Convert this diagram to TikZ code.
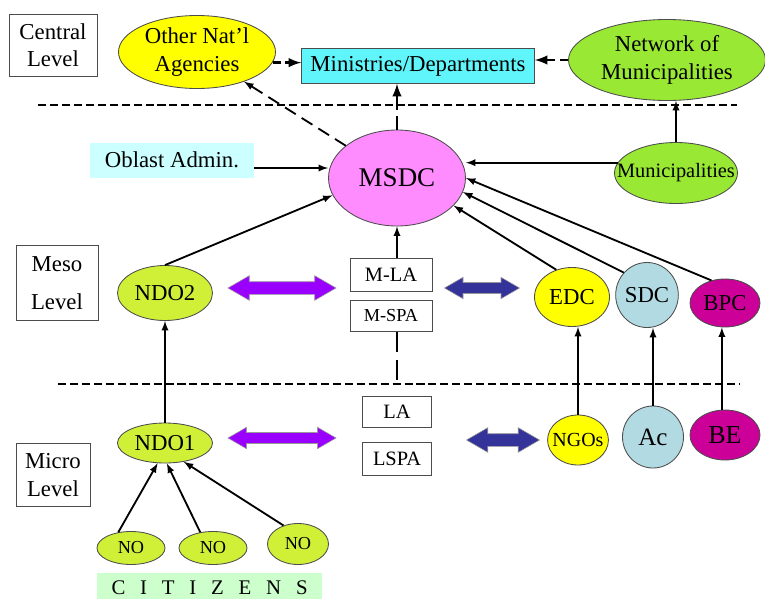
\documentclass[tikz,border=0pt]{standalone}
\usepackage{fontspec}
\setmainfont{Liberation Serif}
\usepackage{tikz}
\usetikzlibrary{shapes.arrows, shapes.geometric, arrows, positioning}
\usetikzlibrary{calc}
\usepackage{xcolor}

\definecolor{natyellow}{RGB}{255,255,0}
\definecolor{mincyan}{RGB}{95,245,250}
\definecolor{munigreen}{RGB}{153,232,51}
\definecolor{ndogreen}{RGB}{208,240,56}
\definecolor{msdcpink}{RGB}{255,140,255}
\definecolor{oblastcyan}{RGB}{204,255,255}
\definecolor{arrpurple}{RGB}{153,0,255}
\definecolor{arrblue}{RGB}{51,51,153}
\definecolor{sdcblue}{RGB}{178,218,226}
\definecolor{bpcmagenta}{RGB}{204,0,153}
\definecolor{citgreen}{RGB}{204,255,204}

\tikzset{
	lvlbox/.style={draw=black!70, line width=0.6pt, align=center, inner sep=0pt},
	oval/.style={ellipse, draw=black!70, line width=0.6pt, inner sep=0pt, align=center},
	txt/.style={font=\fontsize{16.2}{19.5}\selectfont},
	smalltxt/.style={font=\fontsize{14.5}{17}\selectfont},
	tinytxt/.style={font=\fontsize{13}{15}\selectfont},
	link/.style={-latex, line width=1.3pt},
	sepline/.style={line width=1.3pt, dash pattern=on 5.7pt off 2.8pt},
	dbl/.style={double arrow, double arrow tip angle=60, inner xsep=0pt, draw=black!40, line width=0.4pt}
}

\begin{document}
\begin{tikzpicture}
		\useasboundingbox (0,0) rectangle (19.125cm,-14.975cm);
		% central level
		\draw (1.325cm,-1.125cm) node[lvlbox, txt, minimum width=2.2cm, minimum height=1.55cm] (central) {Central\\Level}
		(4.925cm,-1.3cm) node[oval, txt, fill=natyellow, minimum width=3.925cm, minimum height=1.825cm] (ona) {Other Nat’l\\Agencies}
		(10.45cm,-1.65cm) node[lvlbox, txt, fill=mincyan, minimum width=5.825cm, minimum height=0.875cm] (min) {Ministries/Departments}
		(16.675cm,-1.5cm) node[oval, txt, fill=munigreen, minimum width=4.925cm, minimum height=2.025cm] (net) {Network of\\Municipalities};
		\draw[sepline] (0.95cm,-2.625cm) -- (18.425cm,-2.625cm);
		
		% meso level
		\draw (4.3cm,-4.0cm) node[txt, fill=oblastcyan, inner sep=0pt, minimum width=4.1cm, minimum height=0.875cm] (oblast) {Oblast Admin.}
		(9.925cm,-4.45cm) node[oval, fill=msdcpink, minimum width=3.425cm, minimum height=2.4cm, font=\fontsize{19.2}{22}\selectfont] (msdc) {MSDC}
		(16.9cm,-4.325cm) node[oval, smalltxt, fill=munigreen, inner xsep=-0.4cm, minimum width=3.075cm, minimum height=1.525cm] (muni) {Municipalities}
		(1.425cm,-7.075cm) node[lvlbox, txt, minimum width=2.05cm, minimum height=1.875cm] (meso) {Meso\\[8pt]Level}
		(4.125cm,-7.325cm) node[oval, txt, fill=ndogreen, minimum width=2.375cm, minimum height=1.375cm] (ndo2) {NDO2}
		(9.775cm,-6.875cm) node[lvlbox, smalltxt, minimum width=2.05cm, minimum height=0.825cm] (mla) {M-LA}
		(9.775cm,-7.9cm) node[lvlbox, tinytxt, minimum width=2.05cm, minimum height=0.775cm] (mspa) {M-SPA}
		(14.3cm,-7.425cm) node[oval, txt, fill=natyellow, minimum width=1.875cm, minimum height=1.475cm] (edc) {EDC}
		(16.175cm,-7.375cm) node[oval, txt, fill=sdcblue, minimum width=1.525cm, minimum height=1.625cm] (sdc) {SDC}
		(18.125cm,-7.575cm) node[oval, txt, fill=bpcmagenta, minimum width=1.75cm, minimum height=1.2cm] (bpc) {BPC};
		\draw (7.05cm,-7.2cm) node[dbl, fill=arrpurple, inner ysep=0.15cm, double arrow head extend=0.15cm, minimum height=2.7cm] (mesopurple) {}
		(12.05cm,-7.2cm) node[dbl, fill=arrblue, inner ysep=0.13cm, double arrow head extend=0.13cm, minimum height=1.875cm] (mesoblue) {};
		\draw[sepline] (1.45cm,-9.6cm) -- (18.5cm,-9.6cm);
		\coordinate (cut) at (9.925cm,-9.6cm);
		
		% micro level
		\draw (9.925cm,-10.3cm) node[lvlbox, smalltxt, minimum width=1.725cm, minimum height=0.775cm] (la) {LA}
		(9.925cm,-11.475cm) node[lvlbox, smalltxt, minimum width=1.725cm, minimum height=0.825cm] (lspa) {LSPA}
		(4.125cm,-11.075cm) node[oval, txt, fill=ndogreen, minimum width=2.375cm, minimum height=1.0cm] (ndo1) {NDO1}
		(14.45cm,-11.0cm) node[oval, font=\fontsize{14.2}{16}\selectfont, fill=natyellow, inner xsep=-0.1cm, minimum width=1.5cm, minimum height=1.25cm] (ngos) {NGOs}
		(16.325cm,-10.925cm) node[oval, font=\fontsize{17.8}{20}\selectfont, fill=sdcblue, minimum width=1.525cm, minimum height=1.55cm] (ac) {Ac}
		(18.125cm,-10.875cm) node[oval, font=\fontsize{18.5}{20}\selectfont, fill=bpcmagenta, minimum width=1.75cm, minimum height=1.25cm] (be) {BE}
		(1.325cm,-11.875cm) node[lvlbox, txt, minimum width=1.85cm, minimum height=1.575cm] (micro) {Micro\\Level}
		(3.275cm,-13.7cm) node[oval, tinytxt, fill=ndogreen, minimum width=1.7cm, minimum height=0.825cm] (no1) {NO}
		(5.325cm,-13.7cm) node[oval, tinytxt, fill=ndogreen, minimum width=1.7cm, minimum height=0.825cm] (no2) {NO}
		(7.45cm,-13.6cm) node[oval, tinytxt, fill=ndogreen, minimum width=1.525cm, minimum height=1.025cm] (no3) {NO}
		(5.24cm,-14.7cm) node[font=\fontsize{14.8}{16}\selectfont, fill=citgreen, inner sep=0pt, minimum width=5.625cm, minimum height=0.75cm] (citizens) {C\hspace{0.37cm}I\hspace{0.37cm}T\hspace{0.37cm}I\hspace{0.37cm}Z\hspace{0.37cm}E\hspace{0.37cm}N\hspace{0.37cm}S};
		\draw (7.05cm,-10.95cm) node[dbl, fill=arrpurple, inner ysep=0.13cm, double arrow head extend=0.13cm, minimum height=2.7cm] (micropurple) {}
		(12.575cm,-11.0cm) node[dbl, fill=arrblue, inner ysep=0.15cm, double arrow head extend=0.15cm, minimum height=1.825cm] (microblue) {};
		
		\draw[link, line width=2pt, dash pattern=on 6pt off 3pt] (ona.-8) -- (ona.-8 -| min.west);
		\draw[link, line width=2pt, dash pattern=on 6pt off 3pt] (net.west) -- (net.west -| min.east);
		\draw[link, line width=2pt, dash pattern=on 10pt off 4pt] (msdc.north) -- (msdc.north |- min.south);
		\draw[link, dash pattern=on 9pt off 5pt] (msdc) -- (ona);
		\draw[link] ($(oblast.east)+(0,-0.2cm)$) -- ($(oblast.east -| msdc.west)+(0,-0.2cm)$);
		\draw[link] (muni.170) -- (muni.170 -| msdc.east);
		\draw[link] (muni.north) -- (muni.north |- net.south);
		\draw[link] (ndo2.north) -- (msdc.195);
		\draw[link] (mla.north -| msdc) -- (msdc.south);
		\draw[link] (edc.120) -- (msdc.-26);
		\draw[link] (sdc.136) -- (msdc.-12);
		\draw[link] (bpc.121) -- (msdc.east);
		\draw[line width=1.3pt, dash pattern=on 14pt off 6pt] (mspa.south -| msdc) -- (cut);
		\draw[link] (ndo1.north) -- (ndo2.south);
		\draw[link] (ngos.north) -- (ngos.north |- edc.south);
		\draw[link] (ac.north) -- (ac.north |- sdc.south);
		\draw[link] (be.97) -- (be.97 |- bpc.south);
		\draw[link] (no1.129) -- (ndo1.250);
		\draw[link] (no2.129) -- (ndo1.275);
		\draw[link] (no3.128) -- (ndo1.315);
	\end{tikzpicture}
\end{document}
